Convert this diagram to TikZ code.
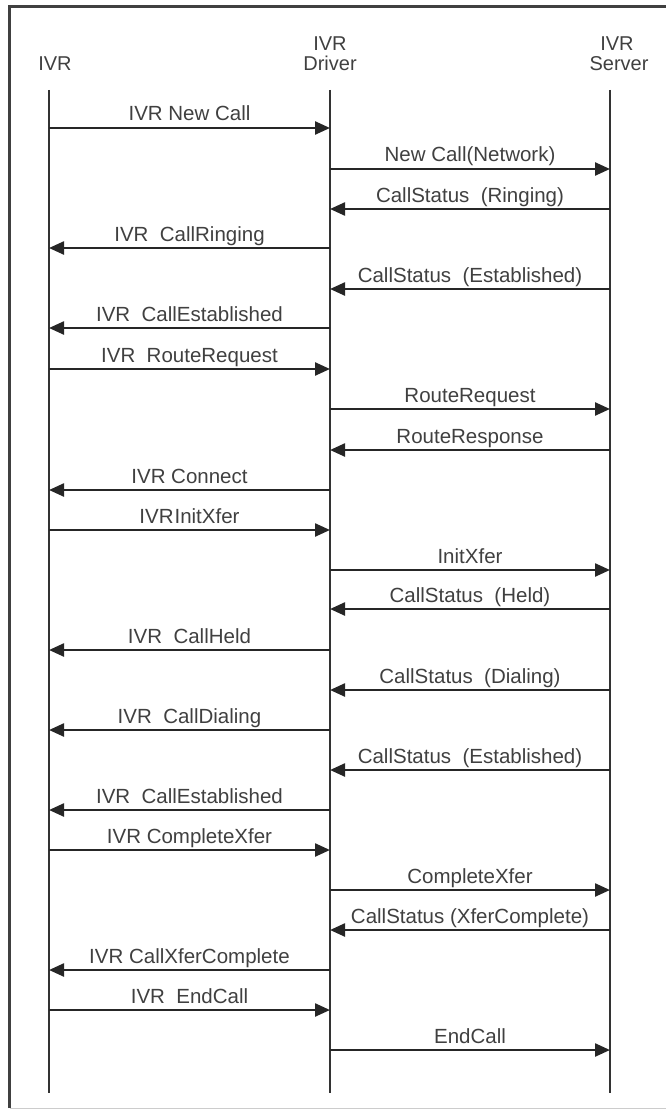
\documentclass[tikz,border=0pt]{standalone}
\usepackage{fontspec}
\setmainfont{Liberation Sans}
\usetikzlibrary{arrows.meta}
\tikzset{
  lifeline/.style={line width=2.6pt, draw=black!80},
  msg/.style={line width=2.4pt, draw=black!85, -{Triangle[length=15pt,width=13pt]}},
  lbl/.style={anchor=base, inner sep=0pt, yshift=7pt, text=black!75, font=\fontsize{20.5}{22}\selectfont},
  hdr/.style={inner sep=0pt, anchor=base, text=black!75, font=\fontsize{20}{22}\selectfont}
}
\begin{document}
\begin{tikzpicture}[x=1pt,y=-1pt]
\useasboundingbox (0,0) rectangle (666,1110);
% frame
\draw[line width=2.6pt, black!75] (9.5,1108) -- (9.5,6.5) -- (668,6.5);
\draw[line width=1.2pt, black!20] (9.5,1108.5) -- (668,1108.5);
% headers
\node[hdr] (hI) at (55,71) {IVR};
\node[hdr] (hD1) at (330,51) {IVR};
\node[hdr] (hD2) at (330,71) {Driver};
\node[hdr] (hS1) at (617,51) {IVR};
\node[hdr] (hS2) at (619,71) {Server};
% lifelines
\coordinate (Itop) at (49,90);
\coordinate (Ibot) at (49,1093);
\coordinate (Dtop) at (330,90);
\coordinate (Dbot) at (330,1093);
\coordinate (Stop) at (610,90);
\coordinate (Sbot) at (610,1093);
\draw[lifeline] (Itop) -- (Ibot);
\draw[lifeline] (Dtop) -- (Dbot);
\draw[lifeline] (Stop) -- (Sbot);
% messages
\foreach \i/\y/\f/\t/\l in {
  1/128/I/D/{IVR New Call},
  2/169/D/S/{New Call(Network)},
  3/209/S/D/{CallStatus\ \ (Ringing)},
  4/248/D/I/{IVR\ \ CallRinging},
  5/289/S/D/{CallStatus\ \ (Established)},
  6/328/D/I/{IVR\ \ CallEstablished},
  7/369/I/D/{IVR\ \ RouteRequest},
  8/409/D/S/{RouteRequest},
  9/450/S/D/{RouteResponse},
  10/490/D/I/{IVR Connect},
  11/530/I/D/{IVR\kern1pt InitXfer},
  12/570/D/S/{InitXfer},
  13/609/S/D/{CallStatus\ \ (Held)},
  14/650/D/I/{IVR\ \ CallHeld},
  15/690/S/D/{CallStatus\ \ (Dialing)},
  16/730/D/I/{IVR\ \ CallDialing},
  17/770/S/D/{CallStatus\ \ (Established)},
  18/810/D/I/{IVR\ \ CallEstablished},
  19/850/I/D/{IVR CompleteXfer},
  20/890/D/S/{CompleteXfer},
  21/930/S/D/{CallStatus (XferComplete)},
  22/970/D/I/{IVR CallXferComplete},
  23/1010/I/D/{IVR\ \ EndCall},
  24/1050/D/S/{EndCall}}{
  \coordinate (m\i a) at (\f top |- 0,\y);
  \coordinate (m\i b) at (\t top |- 0,\y);
  \draw[msg] (m\i a) -- node[lbl] {\l} (m\i b);
}
\end{tikzpicture}
\end{document}
